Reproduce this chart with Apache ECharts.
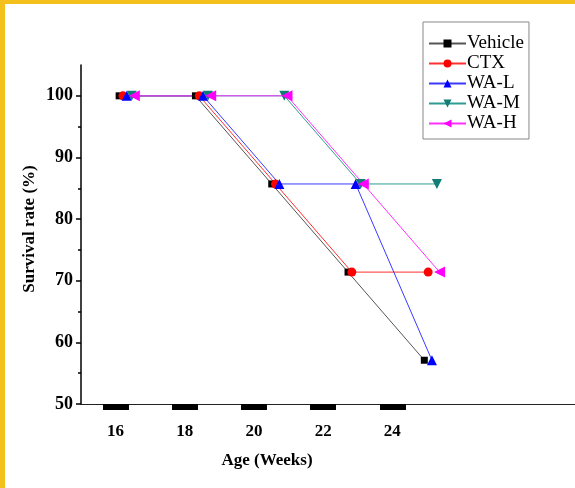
<!DOCTYPE html>
<html>
<head>
<meta charset="utf-8">
<script src="https://cdn.jsdelivr.net/npm/echarts@6/dist/echarts.min.js"></script>
<style>
  html, body { margin: 0; padding: 0; background: #fff; }
  #wrap { position: relative; width: 575px; height: 488px; }
  #main { position: absolute; left: 0; top: 0; width: 575px; height: 488px; }
  #frame { position: absolute; left: 0; top: 0; width: 575px; height: 488px; box-sizing: border-box;
           border-top: 4px solid #f4c01c; border-left: 5px solid #f4c01c; pointer-events: none; }
</style>
</head>
<body>
<div id="wrap"><div id="main"></div><div id="frame"></div></div>
<script>
// survival data (%)
var weeks = [16, 18, 20, 22, 24];
var vehicle = [100, 100, 85.7, 71.4, 57.1];
var ctx = [100, 100, 85.7, 71.4, 71.4];
var waL = [100, 100, 85.7, 85.7, 57.1];
var waM = [100, 100, 100, 85.7, 85.7];
var waH = [100, 100, 100, 85.7, 71.4];
// small horizontal shift of each group in the original plot (weeks)
var shifts = [0, 0.1, 0.2, 0.33, 0.4];
var yMajor = [50, 60, 70, 80, 90, 100];
var yMinor = [55, 65, 75, 85, 95];

var font = 'Liberation Serif';

function pts(vals, shift) {
  return weeks.map(function (w, i) { return [w + shift, vals[i]]; });
}

function mkSeries(name, vals, k, color, lineColor, symbol, size, rot) {
  return {
    name: name,
    type: 'line',
    xAxisIndex: 1,
    yAxisIndex: 0,
    data: pts(vals, shifts[k]),
    symbol: symbol,
    symbolSize: size,
    symbolRotate: rot,
    itemStyle: { color: color },
    lineStyle: { color: lineColor, width: 1 },
    emphasis: { disabled: true },
    animation: false
  };
}

var myChart = echarts.init(document.getElementById('main'));
var option = {
  backgroundColor: '#fff',
  grid: { left: 81, right: 0, top: 65, bottom: 84 },
  legend: {
    orient: 'vertical',
    left: 423,
    top: 22,
    padding: [12, 5, 6, 5],
    itemGap: 1,
    itemWidth: 37,
    itemHeight: 10,
    borderColor: '#888',
    borderWidth: 1,
    textStyle: { fontFamily: font, fontSize: 19, color: '#000', padding: [0, 0, 0, -4] },
    data: ['Vehicle', 'CTX', 'WA-L', 'WA-M', 'WA-H']
  },
  xAxis: [
    {
      type: 'value',
      min: 15,
      max: 29.28,
      axisLine: { lineStyle: { color: '#222', width: 1 } },
      axisTick: { customValues: weeks, length: 6, lineStyle: { color: '#000', width: 26 } },
      axisLabel: { customValues: weeks, margin: 19, fontFamily: font, fontSize: 17, fontWeight: 'bold', color: '#000' },
      splitLine: { show: false }
    },
    {
      type: 'value',
      min: 15,
      max: 27.95,
      show: false
    }
  ],
  yAxis: [
    {
      type: 'value',
      min: 50,
      max: 105,
      axisLine: { show: true, lineStyle: { color: '#000', width: 1.5 } },
      axisTick: { show: true, customValues: yMajor, length: 5, lineStyle: { color: '#000', width: 1.5 } },
      axisLabel: { customValues: yMajor, margin: 8, fontFamily: font, fontSize: 18, fontWeight: 'bold', color: '#000' },
      splitLine: { show: false }
    },
    {
      type: 'value',
      min: 50,
      max: 105,
      position: 'left',
      axisLine: { show: false },
      axisTick: { show: true, customValues: yMinor, length: 3, lineStyle: { color: '#000', width: 1.5 } },
      axisLabel: { show: false },
      splitLine: { show: false }
    }
  ],
  graphic: [
    {
      type: 'text', x: 267, y: 461,
      style: { text: 'Age (Weeks)', font: 'bold 17px "Liberation Serif"', fill: '#000', textAlign: 'center', textVerticalAlign: 'middle' }
    },
    {
      type: 'text', x: 30, y: 229, rotation: Math.PI / 2,
      style: { text: 'Survival rate (%)', font: 'bold 17px "Liberation Serif"', fill: '#000', textAlign: 'center', textVerticalAlign: 'middle' }
    }
  ],
  series: [
    mkSeries('Vehicle', vehicle, 0, '#000', '#555', 'rect', 7, 0),
    mkSeries('CTX', ctx, 1, '#ff0000', '#ff3030', 'circle', 9, 0),
    mkSeries('WA-L', waL, 2, '#0000ff', '#3a3aff', 'triangle', 10, 0),
    mkSeries('WA-M', waM, 3, '#117d74', '#2f9c92', 'triangle', 10, 180),
    mkSeries('WA-H', waH, 4, '#ff00ff', '#ff30ff', 'triangle', 11, 90)
  ]
};
myChart.setOption(option);
</script>
</body>
</html>
